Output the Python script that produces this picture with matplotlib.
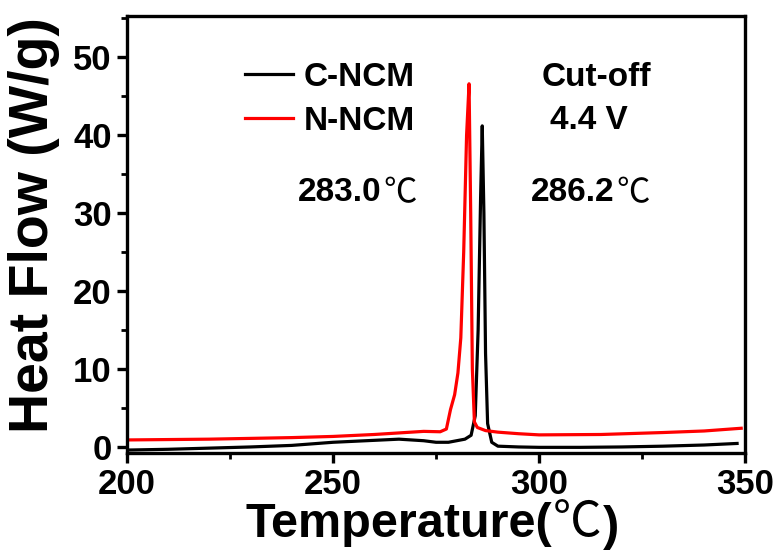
import matplotlib
matplotlib.use("Agg")
import matplotlib.pyplot as plt
from matplotlib.ticker import MultipleLocator

# DSC heat-flow curves
c_ncm_temp = [200, 210, 220, 230, 240, 250, 260, 266, 272, 275, 278, 280, 282,
              283.5, 284.5, 285.2, 285.8, 286.2, 286.6, 287.0, 287.5, 288.5,
              290, 295, 300, 310, 320, 330, 340, 348]
c_ncm_flow = [-0.4, -0.3, -0.15, 0.0, 0.2, 0.6, 0.85, 1.0, 0.8, 0.6, 0.6, 0.8, 1.0,
              1.5, 4.0, 15.0, 32.0, 41.2, 30.0, 12.0, 3.0, 0.6,
              0.1, 0.0, -0.05, -0.05, 0.0, 0.1, 0.25, 0.45]

n_ncm_temp = [200, 210, 220, 230, 240, 250, 260, 266, 272, 276, 277.5, 278.5,
              279.5, 280.3, 281, 281.7, 282.4, 283.0, 283.4, 283.8, 284.3, 285,
              287, 290, 295, 300, 315, 330, 340, 349]
n_ncm_flow = [0.9, 0.95, 1.0, 1.1, 1.2, 1.35, 1.6, 1.8, 2.0, 1.95, 2.3, 4.8,
              6.7, 9.5, 14.0, 25.0, 40.0, 46.6, 30.0, 10.0, 3.2, 2.5,
              2.1, 1.9, 1.7, 1.55, 1.6, 1.85, 2.05, 2.4]

series_labels = ["C-NCM", "N-NCM"]
series_colors = ["black", "#ff0000"]
onset_labels = ["283.0", "286.2"]

FONT = "Liberation Sans"
SYM_FONT = ["Noto Sans CJK SC", "DejaVu Sans"]

fig = plt.figure(figsize=(7.78, 5.52), dpi=100)
ax = fig.add_axes([0.163, 0.179, 0.795, 0.792])

ax.plot(c_ncm_temp, c_ncm_flow, color=series_colors[0], lw=2.3, label=series_labels[0])
ax.plot(n_ncm_temp, n_ncm_flow, color=series_colors[1], lw=2.3, label=series_labels[1])

ax.set_xlim(200, 350)
ax.set_ylim(-0.8, 55.3)
ax.xaxis.set_major_locator(MultipleLocator(50))
ax.xaxis.set_minor_locator(MultipleLocator(25))
ax.yaxis.set_major_locator(MultipleLocator(10))
ax.yaxis.set_minor_locator(MultipleLocator(5))

for sp in ax.spines.values():
    sp.set_linewidth(2.4)
ax.tick_params(which="major", direction="out", length=7, width=2.4,
               labelsize=25, pad=4)
ax.tick_params(which="minor", direction="out", length=4, width=2.0)
for lbl in ax.get_xticklabels() + ax.get_yticklabels():
    lbl.set_fontfamily(FONT)
    lbl.set_fontweight("bold")

leg = ax.legend(loc="upper left", bbox_to_anchor=(0.191, 0.895), frameon=False,
                prop={"family": FONT, "weight": "bold", "size": 24},
                handlelength=1.45, handletextpad=0.3, labelspacing=0.38,
                borderpad=0, borderaxespad=0)
for h in leg.get_lines():
    h.set_linewidth(2.3)


def label_with_degree(x, y, number):
    t = ax.text(x, y, number, fontfamily=FONT, fontweight="bold", fontsize=24,
                ha="left", va="baseline")
    ax.annotate("℃", xy=(1.0, 0.0), xycoords=t, fontfamily=SYM_FONT,
                fontweight="light", fontsize=24, ha="left", va="bottom",
                xytext=(1, -2), textcoords="offset points")


label_with_degree(241.5, 31.6, onset_labels[0])
label_with_degree(298.0, 31.6, onset_labels[1])

ax.text(300.5, 46.3, "Cut-off", fontfamily=FONT, fontweight="bold", fontsize=24,
        ha="left", va="baseline")
ax.text(302.7, 40.8, "4.4 V", fontfamily=FONT, fontweight="bold", fontsize=24,
        ha="left", va="baseline")

# axis titles
xl = fig.text(0.315, 0.027, "Temperature(", fontfamily=FONT, fontweight="bold",
              fontsize=35, ha="left", va="baseline")
t2 = ax.annotate("℃", xy=(1.0, 0.0), xycoords=xl, fontfamily=SYM_FONT,
                 fontweight="light", fontsize=35, ha="left", va="bottom",
                 xytext=(1, 0), textcoords="offset points", annotation_clip=False)
ax.annotate(")", xy=(1.0, 0.0), xycoords=t2, fontfamily=FONT, fontweight="bold",
            fontsize=35, ha="left", va="bottom", xytext=(1, -2),
            textcoords="offset points", annotation_clip=False)

fig.text(0.044, 0.592, "Heat Flow (W/g)", fontfamily=FONT, fontweight="bold",
         fontsize=40, rotation=90, ha="center", va="center")

fig.savefig("out.png", dpi=100, facecolor="white")
